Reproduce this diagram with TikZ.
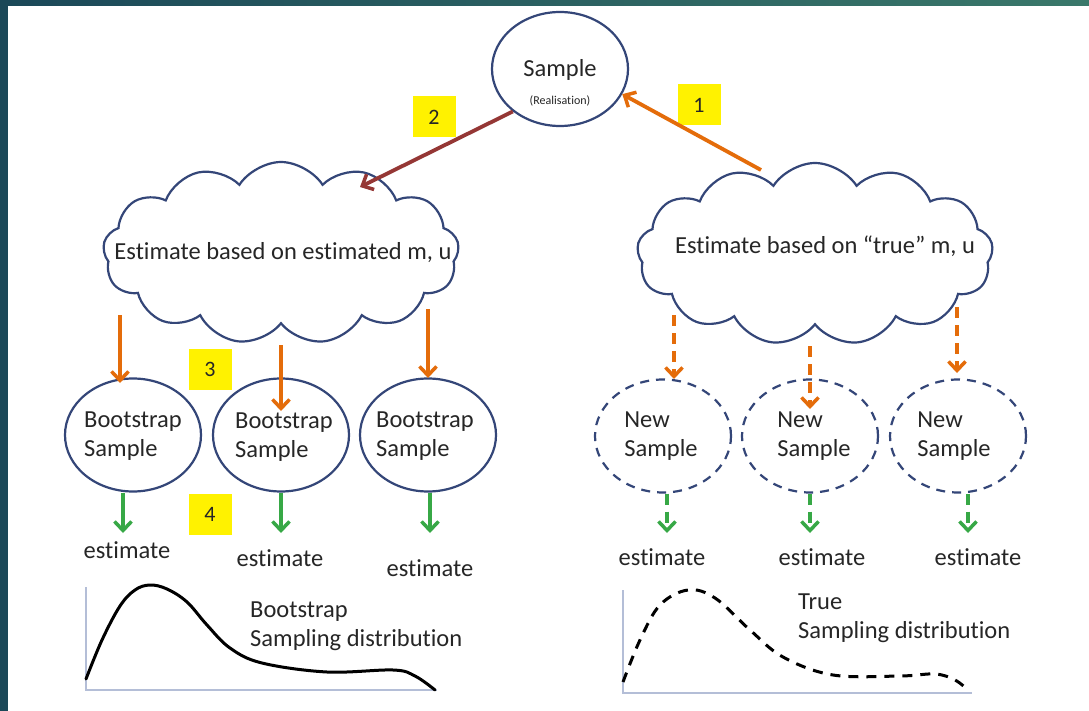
\documentclass[tikz,border=0pt]{standalone}
\usepackage{fontspec}
\setmainfont{Carlito}[Ligatures={NoCommon}]
\usetikzlibrary{shapes.geometric,shapes.symbols,arrows.meta,calc}
\definecolor{ebord}{RGB}{52,70,120}
\definecolor{oran}{RGB}{228,108,10}
\definecolor{dred}{RGB}{149,55,53}
\definecolor{grn}{RGB}{55,168,70}
\definecolor{txt}{RGB}{38,38,38}
\definecolor{axc}{RGB}{180,190,215}
\definecolor{bgL}{RGB}{27,72,88}
\definecolor{bgR}{RGB}{58,120,106}
\begin{document}
\begin{tikzpicture}[x=1pt,y=-1pt,
  every node/.style={text=txt,font=\fontsize{24.5}{29}\selectfont},
  ell/.style={ellipse,draw=ebord,line width=2.2pt,minimum width=136pt,minimum height=113pt,inner sep=0pt},
  dell/.style={ell,dash pattern=on 9pt off 7pt},
  cl/.style={cloud,draw=ebord,line width=2.2pt,cloud puffs=13,cloud puff arc=115,cloud ignores aspect,minimum width=356pt,minimum height=182pt,inner sep=0pt},
  ybox/.style={fill=yellow,minimum width=43pt,minimum height=41pt,inner sep=0pt,font=\fontsize{22}{26}\selectfont},
  barrow/.style={line width=3.8pt,-{Straight Barb[length=9pt,width=17pt,line width=3.5pt]}},
  oarr/.style={barrow,draw=oran},
  darr/.style={barrow,draw=oran,dash pattern=on 11pt off 7pt},
  garr/.style={barrow,draw=grn},
  gdarr/.style={barrow,draw=grn,dash pattern=on 11pt off 7pt},
  lbl/.style={align=left,inner sep=0pt},
  axis/.style={draw=axc,line width=1.6pt}
]
\useasboundingbox (0,0) rectangle (1089,711);
\fill[white] (0,0) rectangle (1089,711);
\shade[left color=bgL,right color=bgR] (0,0) rectangle (1089,6);
\fill[bgL] (0,0) rectangle (8,711);

% top sample
\node[ell,minimum width=136pt,minimum height=114pt] (sample) at (560,69) {};
\node[inner sep=0pt] (sampleT) at (560,70) {Sample};
\node[inner sep=0pt,font=\fontsize{12}{14}\selectfont] (realT) at (560,101) {(Realisation)};

% clouds
\node[cl] (cloudL) at (281,253) {};
\node[inner sep=0pt] (cloudLT) at (283,253) {Estimate based on estimated m, u};
\node[cl] (cloudR) at (815,254) {};
\node[inner sep=0pt] (cloudRT) at (825,246) {Estimate based on “true” m, u};

% yellow boxes
\node[ybox] (y1) at (699,105) {1};
\node[ybox] (y2) at (434,117) {2};
\node[ybox] (y3) at (210,369) {3};
\node[ybox] (y4) at (210,514) {4};

% arrows 1 and 2
\coordinate (a1s) at (761,170);
\coordinate (a2e) at (360,187);
\draw[oarr] (a1s) -- (sample.-22);
\draw[barrow,draw=dred] (sample.222) -- (a2e);

% bootstrap ellipses
\node[ell] (b1) at (133,435) {};
\node[ell] (b2) at (281,435) {};
\node[ell] (b3) at (428,435) {};
\node[lbl] (b1t) at (133,436) {Bootstrap\\Sample};
\node[lbl] (b2t) at (284,437) {Bootstrap\\Sample};
\node[lbl] (b3t) at (425,436) {Bootstrap\\Sample};

% new sample ellipses
\node[dell] (n1) at (663,436) {};
\node[dell] (n2) at (810,436) {};
\node[dell] (n3) at (958,436) {};
\node[lbl] (n1t) at (661,436) {New\\Sample};
\node[lbl] (n2t) at (814,436) {New\\Sample};
\node[lbl] (n3t) at (954,436) {New\\Sample};

% orange arrows left
\coordinate (oL1) at (120,315);
\coordinate (oL2) at (281,345);
\coordinate (oL3) at (428,309);
\coordinate (eL1) at (120,383);
\coordinate (eL2) at (281,411);
\coordinate (eL3) at (428,378);
\draw[oarr] (oL1) -- (eL1);
\draw[oarr] (oL2) -- (eL2);
\draw[oarr] (oL3) -- (eL3);

% orange dashed right
\coordinate (oR1) at (674,315);
\coordinate (oR2) at (810,346);
\coordinate (oR3) at (957,307);
\coordinate (eR1) at (674,379);
\coordinate (eR2) at (810,409);
\coordinate (eR3) at (957,373);
\draw[darr] (oR1) -- (eR1);
\draw[darr] (oR2) -- (eR2);
\draw[darr] (oR3) -- (eR3);

% estimates
\node[inner sep=0pt] (e1) at (127,550) {estimate};
\node[inner sep=0pt] (e2) at (280,558) {estimate};
\node[inner sep=0pt] (e3) at (430,568) {estimate};
\node[inner sep=0pt] (e4) at (662,557) {estimate};
\node[inner sep=0pt] (e5) at (822,557) {estimate};
\node[inner sep=0pt] (e6) at (978,557) {estimate};

\coordinate (gL1) at (123,533);
\coordinate (gL2) at (281,533);
\coordinate (gL3) at (430,533);
\coordinate (gR1) at (667,533);
\coordinate (gR2) at (810,533);
\coordinate (gR3) at (968,533);
\draw[garr] (b1.south -| gL1) -- (gL1);
\draw[garr] (b2.south -| gL2) -- (gL2);
\draw[garr] (b3.south -| gL3) -- (gL3);
\draw[gdarr] (n1.south -| gR1) -- (gR1);
\draw[gdarr] (n2.south -| gR2) -- (gR2);
\draw[gdarr] (n3.south -| gR3) -- (gR3);

% left distribution
\draw[axis] (86,587) -- (86,690) -- (437,690);
\draw[line width=3pt,black,line cap=round] plot[smooth,tension=0.6] coordinates {(86,679) (102,640) (120,606) (135,590) (150,585) (167,589) (187,602) (207,625) (230,648) (262,663) (327,672) (393,670) (415,676) (435,690)};
\node[lbl,anchor=west] (bsd) at (250,626) {Bootstrap\\Sampling distribution};

% right distribution
\draw[axis] (623,590) -- (623,693) -- (972,693);
\draw[line width=3pt,black,dash pattern=on 10pt off 8pt] plot[smooth,tension=0.6] coordinates {(623,682) (640,640) (660,605) (688,590) (715,598) (750,630) (783,657) (833,675) (900,676) (935,674) (955,680) (969,691)};
\node[lbl,anchor=west] (tsd) at (798,618) {True\\Sampling distribution};
\end{tikzpicture}
\end{document}
